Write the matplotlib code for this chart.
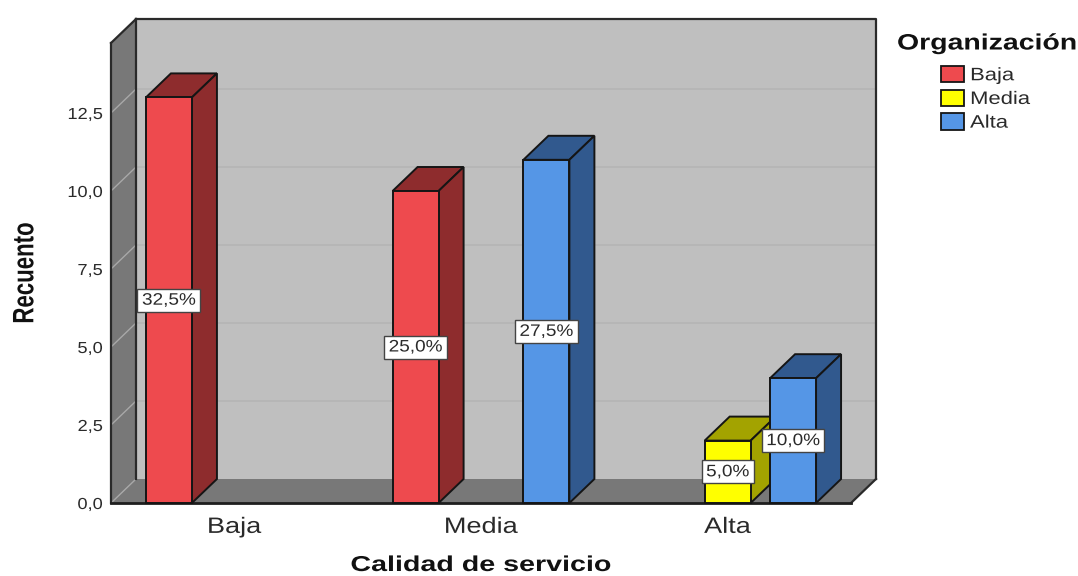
import matplotlib
matplotlib.use("Agg")
import matplotlib.pyplot as plt
from matplotlib.patches import Polygon, Patch
from matplotlib.patheffects import AbstractPathEffect
from matplotlib.transforms import Affine2D

W, H = 1078, 576

categories = ["Baja", "Media", "Alta"]
group_names = ["Baja", "Media", "Alta"]
# one entry per drawn bar
bar_category = [0, 1, 1, 2, 2]
bar_group = [0, 0, 2, 1, 2]
bar_counts = [13, 10, 11, 2, 4]
bar_labels = ["32,5%", "25,0%", "27,5%", "5,0%", "10,0%"]
y_ticks = [0, 2.5, 5, 7.5, 10, 12.5]
y_tick_labels = ["0,0", "2,5", "5,0", "7,5", "10,0", "12,5"]

face = {0: "#EE4A4E", 1: "#FFFF00", 2: "#5596E6"}
shade = {0: "#8E2C2D", 1: "#A3A300", 2: "#31598E"}
EDGE = "#151515"
TEXT = "#2A2A2A"
FONT = "Liberation Sans"


class Widen(AbstractPathEffect):
    """Scale a text glyph path horizontally about a fixed display x."""

    def __init__(self, sx, cx):
        super().__init__()
        self.sx, self.cx = sx, cx

    def draw_path(self, renderer, gc, tpath, affine, rgbFace=None):
        wide = affine + Affine2D().translate(-self.cx, 0).scale(self.sx, 1).translate(self.cx, 0)
        renderer.draw_path(gc, tpath, wide, rgbFace)


def widen(artist, sx=1.3, anchor="center"):
    ext = artist.get_window_extent()
    cx = {"left": ext.x0, "center": (ext.x0 + ext.x1) / 2, "right": ext.x1}[anchor]
    artist.set_path_effects([Widen(sx, cx)])
    patch = artist.get_bbox_patch()
    if patch is not None:
        patch.set_path_effects([Widen(sx, cx)])


fig = plt.figure(figsize=(W / 100, H / 100), dpi=100, facecolor="white")
left, right, bottom, top = 111, 851, 503, 43
ax = fig.add_axes([left / W, 1 - bottom / H, (right - left) / W, (bottom - top) / H])
ax.set_xlim(-0.5, 2.5)
ax.set_ylim(0, (bottom - top) / 31.2)
for s in ax.spines.values():
    s.set_visible(False)
ax.patch.set_visible(False)

# depth of the 3D box, in data units
DX = 25 / (740 / 3)
DY = 24 / 31.2
X0, X1 = ax.get_xlim()
YMAX = ax.get_ylim()[1]
SLOT = 65.4 / (740 / 3)
BAR_W = 46 / (740 / 3)


def poly(pts, fc, ec="none", lw=0, z=1):
    ax.add_patch(Polygon(pts, closed=True, facecolor=fc, edgecolor=ec,
                         linewidth=lw, zorder=z, clip_on=False, joinstyle="miter"))


# back wall, side wall and floor
poly([(X0 + DX, DY), (X1 + DX, DY), (X1 + DX, YMAX + DY), (X0 + DX, YMAX + DY)], "#BFBFBF", z=1)
poly([(X0, 0), (X0 + DX, DY), (X0 + DX, YMAX + DY), (X0, YMAX)], "#787878", z=1)
poly([(X0, 0), (X1, 0), (X1 + DX, DY), (X0 + DX, DY)], "#787878", z=1)

# gridlines on back and side walls
for v in y_ticks[1:]:
    ax.plot([X0 + DX, X1 + DX], [v + DY, v + DY], color="#B5B5B5", lw=1.2, zorder=1.5, clip_on=False)
for v in y_ticks:
    ax.plot([X0, X0 + DX], [v, v + DY], color="#A8A8A8", lw=1.0, zorder=1.5, clip_on=False)

# box outline
line = dict(color="#2A2A2A", lw=1.6, zorder=2, clip_on=False, solid_capstyle="projecting")
ax.plot([X0 + DX, X0 + DX], [DY, YMAX + DY], **line)
ax.plot([X0 + DX, X1 + DX, X1 + DX], [YMAX + DY, YMAX + DY, DY], **line)
ax.plot([X0, X0 + DX], [YMAX, YMAX + DY], **line)
ax.plot([X0, X0], [0, YMAX], **line)
ax.plot([X1, X1 + DX], [0, DY], **line)
ax.plot([X0, X1], [0, 0], color="#1E1E1E", lw=2.0, zorder=2, clip_on=False)

# bars, front face from ax.bar and extruded top and side faces
value_texts = []
for i, (c, g, n) in enumerate(zip(bar_category, bar_group, bar_counts)):
    x = c + (g - 1) * SLOT
    a, b = x - BAR_W / 2, x + BAR_W / 2
    z = 3 + i * 0.1
    poly([(a, n), (b, n), (b + DX, n + DY), (a + DX, n + DY)], shade[g], EDGE, 1.4, z)
    poly([(b, 0), (b + DX, DY), (b + DX, n + DY), (b, n)], shade[g], EDGE, 1.4, z)
    ax.bar(x, n, BAR_W, color=face[g], edgecolor=EDGE, linewidth=1.4, zorder=z + 0.05, clip_on=False)
    value_texts.append(ax.text(x, n / 2, bar_labels[i], ha="center", va="center", fontsize=12,
                               family=FONT, color=TEXT, zorder=6,
                               bbox=dict(boxstyle="square,pad=0.24", fc="white", ec="#444444", lw=1.0)))

ax.set_yticks(y_ticks, y_tick_labels, fontsize=11.5, color=TEXT, family=FONT)
ax.set_xticks(range(len(categories)), categories, fontsize=16, color=TEXT, family=FONT)
ax.tick_params(axis="y", length=0, pad=6)
ax.tick_params(axis="x", length=0, pad=10)

xtitle = fig.text(481 / W, 1 - 571 / H, "Calidad de servicio", ha="center", va="baseline",
                  fontsize=15.5, fontweight="bold", family=FONT, color="#111111")
ytitle = fig.text(26 / W, 1 - 273 / H, "Recuento", rotation=90, ha="center", va="center",
                  fontsize=16, fontweight="bold", family=FONT, color="#111111")
ltitle = fig.text(897 / W, 1 - 44 / H, "Organización", ha="left", va="center",
                  fontsize=16, fontweight="bold", family=FONT, color="#111111")

handles = [Patch(facecolor=face[i], edgecolor=EDGE, linewidth=1.3, label=group_names[i]) for i in range(3)]
legend = fig.legend(handles=handles, loc="upper left", bbox_to_anchor=(941 / W, 1 - 66 / H),
                    frameon=False, borderaxespad=0, borderpad=0, handlelength=1.25, handleheight=1.0,
                    handletextpad=0.36, labelspacing=0.3,
                    prop={"family": FONT, "size": 13}, labelcolor=TEXT)

# all lettering is set wide; positions are measured once layout is known
fig.canvas.draw()
for t in ax.get_xticklabels():
    widen(t, 1.22)
widen(xtitle, 1.33)
for t in ax.get_yticklabels():
    widen(t, 1.14, "right")
for t in value_texts:
    widen(t, 1.14)
for t in legend.get_texts():
    widen(t, 1.22, "left")
widen(ltitle, 1.28, "left")
widen(ytitle, 1.33)

fig.savefig("out.png", dpi=100)
